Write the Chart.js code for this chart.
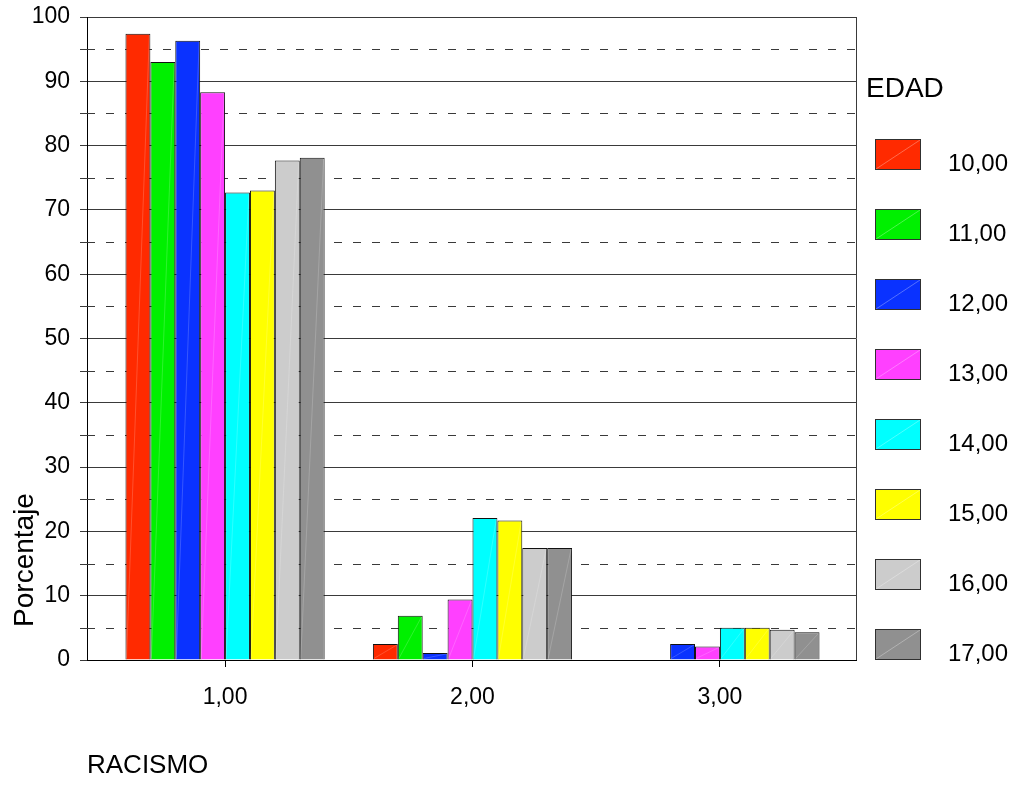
<!DOCTYPE html>
<html lang="es">
<head>
<meta charset="utf-8">
<title>RACISMO por EDAD</title>
<script src="https://cdn.jsdelivr.net/npm/chart.js@4.4.1/dist/chart.umd.min.js"></script>
<style>
  html, body { margin: 0; background: #fff; }
  #caja { width: 1013px; height: 789px; }
</style>
</head>
<body>
<div id="caja"><canvas id="grafico" width="1013" height="789"></canvas></div>
<script>
const categorias = ['1,00', '2,00', '3,00'];
const posicionesX = [1, 2, 3];
const edades = ['10,00', '11,00', '12,00', '13,00', '14,00', '15,00', '16,00', '17,00'];
const edad10 = [97.4, 2.5, 0];
const edad11 = [93.0, 6.9, 0];
const edad12 = [96.3, 1.1, 2.5];
const edad13 = [88.3, 9.4, 2.1];
const edad14 = [72.7, 22.1, 5.0];
const edad15 = [73.0, 21.7, 5.0];
const edad16 = [77.7, 17.4, 4.7];
const edad17 = [78.1, 17.4, 4.3];
const colores = ['#ff2a00', '#00f000', '#0a32ff', '#ff40ff', '#00ffff', '#ffff00', '#cccccc', '#909090'];

(function () {
  const $ = (id) => document.getElementById(id);
  const fuente = "Arial, 'Liberation Sans', sans-serif";
  const series = [edad10, edad11, edad12, edad13, edad14, edad15, edad16, edad17];

  // líneas discontinuas en los 5, 15, ... y borde derecho del área
  const cuadricula = {
    id: 'cuadricula',
    beforeDatasetsDraw(chart) {
      const { ctx, chartArea: a, scales: { y } } = chart;
      ctx.save();
      ctx.strokeStyle = '#3a3a3a'; ctx.lineWidth = 1;
      for (let v = 5; v < 100; v += 10) {
        const py = Math.round(y.getPixelForValue(v)) + 0.5;
        ctx.setLineDash([]);
        ctx.beginPath(); ctx.moveTo(a.left - 7, py); ctx.lineTo(a.left, py); ctx.stroke();
        ctx.setLineDash([8, 11]);
        ctx.beginPath(); ctx.moveTo(a.left, py); ctx.lineTo(a.right, py); ctx.stroke();
      }
      ctx.setLineDash([]);
      ctx.beginPath(); ctx.moveTo(Math.round(a.right) + 0.5, a.top); ctx.lineTo(Math.round(a.right) + 0.5, a.bottom); ctx.stroke();
      ctx.restore();
    },
  };

  // diagonal clara que deja SPSS sobre cada barra
  const diagonal = (ctx, x0, y0, x1, y1) => {
    ctx.beginPath(); ctx.moveTo(x0, y0); ctx.lineTo(x1, y1); ctx.stroke();
  };
  const brillo = {
    id: 'brillo',
    afterDatasetsDraw(chart) {
      const ctx = chart.ctx;
      ctx.save();
      ctx.strokeStyle = 'rgba(255,255,255,.18)'; ctx.lineWidth = 1;
      chart.data.datasets.forEach((ds, i) => {
        chart.getDatasetMeta(i).data.forEach(b => {
          const { x, y, base, width } = b.getProps(['x', 'y', 'base', 'width'], true);
          if (base - y < 3) return;
          diagonal(ctx, x - width / 2 + 1, base - 1, x + width / 2 - 1, y + 1);
        });
      });
      ctx.restore();
    },
  };

  const leyenda = {
    id: 'leyenda',
    afterDraw(chart) {
      const { ctx, chartArea: a } = chart;
      const x0 = a.right + 19;
      ctx.save();
      ctx.fillStyle = '#000'; ctx.textBaseline = 'alphabetic'; ctx.textAlign = 'left';
      ctx.font = `28px ${fuente}`;
      ctx.fillText('EDAD', x0 - 9, 97);
      chart.data.datasets.forEach((ds, i) => {
        const top = 139 + i * 70;
        ctx.fillStyle = ds.backgroundColor; ctx.fillRect(x0, top, 46, 31);
        ctx.strokeStyle = 'rgba(255,255,255,.3)';
        diagonal(ctx, x0 + 1, top + 30, x0 + 45, top + 1);
        ctx.strokeStyle = '#303030'; ctx.strokeRect(x0 + 0.5, top + 0.5, 45, 30);
        ctx.fillStyle = '#000'; ctx.font = `24px ${fuente}`;
        ctx.fillText(ds.label, x0 + 73, top + 32);
      });
      // título del eje Y, pegado abajo como en el original
      ctx.translate(33, 560); ctx.rotate(-Math.PI / 2);
      ctx.textAlign = 'center'; ctx.font = `28px ${fuente}`;
      ctx.fillText('Porcentaje', 0, 0);
      ctx.restore();
    },
  };

  new Chart($('grafico'), {
    type: 'bar',
    data: {
      labels: posicionesX,
      datasets: edades.map((e, i) => ({
        label: e, data: series[i], backgroundColor: colores[i],
        borderColor: '#111', borderWidth: 1,
        categoryPercentage: 0.805, barPercentage: 1,
      })),
    },
    options: {
      responsive: false, animation: false,
      layout: { padding: { left: 17, top: 17, right: 157, bottom: 8 } },
      plugins: { legend: { display: false }, tooltip: { enabled: false } },
      scales: {
        x: {
          type: 'linear', min: 0.442, max: 3.55, offset: false,
          afterBuildTicks: s => { s.ticks = posicionesX.map(v => ({ value: v })); },
          afterFit: s => { s.height = 121; },
          ticks: { callback: v => categorias[posicionesX.indexOf(v)] ?? '', color: '#000',
            font: { size: 23, family: fuente }, padding: 17, maxRotation: 0, autoSkip: false },
          grid: { drawOnChartArea: false, offset: false, tickLength: 7, tickColor: '#000' },
          border: { color: '#000' },
          title: { display: true, text: 'RACISMO', align: 'start', color: '#000',
            font: { size: 26, family: fuente }, padding: 0 },
        },
        y: {
          min: 0, max: 100,
          afterFit: s => { s.width = 70; s.paddingTop = 0; s.paddingBottom = 0; },
          ticks: { stepSize: 10, padding: 10, color: '#000', font: { size: 23, family: fuente } },
          grid: { color: '#3a3a3a', tickLength: 7, tickColor: '#3a3a3a' },
          border: { color: '#000' },
        },
      },
    },
    plugins: [cuadricula, brillo, leyenda],
  });
})();
</script>
</body>
</html>
